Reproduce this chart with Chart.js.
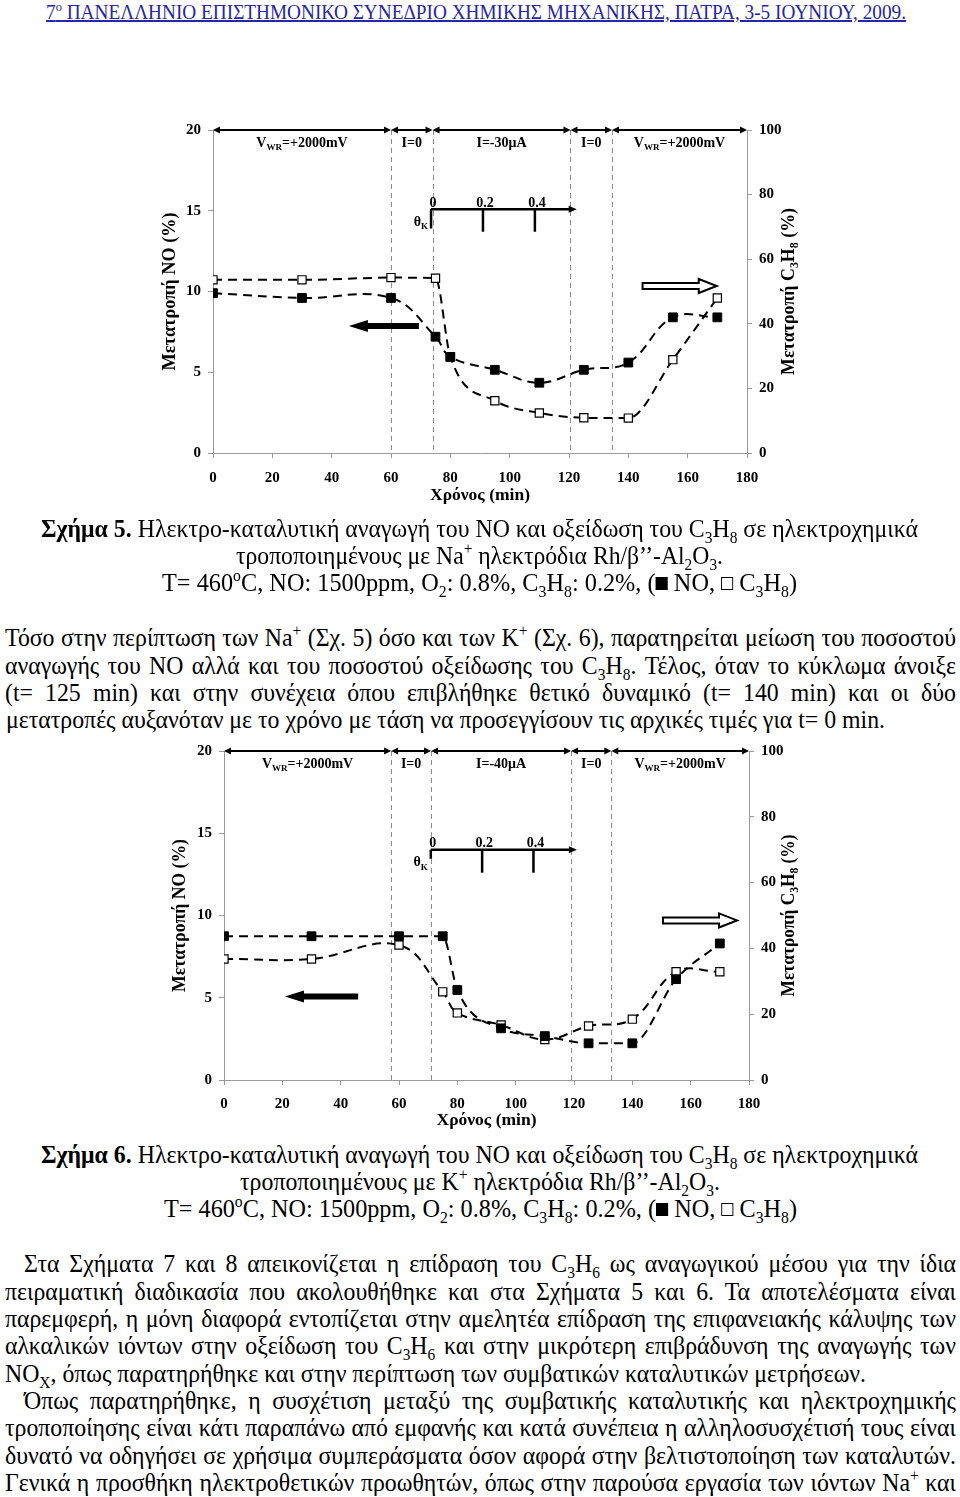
<!DOCTYPE html>
<html>
<head>
<meta charset="utf-8">
<script src="https://cdn.jsdelivr.net/npm/chart.js@4.4.0/dist/chart.umd.min.js"></script>
<style>
  body { margin: 0; width: 960px; height: 1497px; position: relative; overflow: hidden; background: #fff; color: #000;
         font-family: "Liberation Serif", "Times New Roman", serif; }
  .ln { position: absolute; white-space: nowrap; font-size: 26px; line-height: 27px; }
  .ln > span { display: inline-block; transform-origin: 0 0; }
  .hd { font-size: 20px; line-height: 22px; color: #2626a6; }
  .hd > span { text-decoration: underline; }
  sub, sup { font-size: 0.65em; line-height: 0; }
  .sq { display: inline-block; width: 0.5em; height: 0.5em; box-sizing: border-box; vertical-align: 0.05em; }
  .sq.f { background: #000; }
  .sq.o { border: 1.6px solid #000; }
  .box { position: absolute; }
</style>
</head>
<body>

<div class="ln hd" style="left:46px;top:1px" data-w="860"><span>7<sup>ο</sup> ΠΑΝΕΛΛΗΝΙΟ ΕΠΙΣΤΗΜΟΝΙΚΟ ΣΥΝΕΔΡΙΟ ΧΗΜΙΚΗΣ ΜΗΧΑΝΙΚΗΣ, ΠΑΤΡΑ, 3-5 ΙΟΥΝΙΟΥ, 2009.</span></div>

<div class="box" style="left:150px;top:110px;width:660px;height:405px"><canvas id="fig5" width="660" height="405"></canvas></div>

<div class="ln" style="left:41px;top:515px" data-w="877"><span><b>Σχήμα 5.</b> Ηλεκτρο-καταλυτική αναγωγή του NO και οξείδωση του C<sub>3</sub>H<sub>8</sub> σε ηλεκτροχημικά</span></div>
<div class="ln" style="left:236px;top:542px" data-w="487"><span>τροποποιημένους με Na<sup>+</sup> ηλεκτρόδια Rh/β’’-Al<sub>2</sub>O<sub>3</sub>.</span></div>
<div class="ln" style="left:162px;top:569px" data-w="635"><span>T= 460<sup>o</sup>C, NO: 1500ppm, O<sub>2</sub>: 0.8%, C<sub>3</sub>H<sub>8</sub>: 0.2%, (<i class="sq f"></i> NO, <i class="sq o"></i> C<sub>3</sub>H<sub>8</sub>)</span></div>

<div class="ln" style="left:5px;top:624px" data-w="951" data-j="1"><span>Τόσο στην περίπτωση των Na<sup>+</sup> (Σχ. 5) όσο και των K<sup>+</sup> (Σχ. 6), παρατηρείται μείωση του ποσοστού</span></div>
<div class="ln" style="left:5px;top:652px" data-w="951" data-j="1"><span>αναγωγής του NO αλλά και του ποσοστού οξείδωσης του C<sub>3</sub>H<sub>8</sub>. Τέλος, όταν το κύκλωμα άνοιξε</span></div>
<div class="ln" style="left:5px;top:679px" data-w="951" data-j="1"><span>(t= 125 min) και στην συνέχεια όπου επιβλήθηκε θετικό δυναμικό (t= 140 min) και οι δύο</span></div>
<div class="ln" id="ref" style="left:6px;top:706px" data-w="879"><span>μετατροπές αυξανόταν με το χρόνο με τάση να προσεγγίσουν τις αρχικές τιμές για t= 0 min.</span></div>

<div class="box" style="left:150px;top:735px;width:660px;height:400px"><canvas id="fig6" width="660" height="400"></canvas></div>

<div class="ln" style="left:41px;top:1141px" data-w="877"><span><b>Σχήμα 6.</b> Ηλεκτρο-καταλυτική αναγωγή του NO και οξείδωση του C<sub>3</sub>H<sub>8</sub> σε ηλεκτροχημικά</span></div>
<div class="ln" style="left:240px;top:1168px" data-w="480"><span>τροποποιημένους με K<sup>+</sup> ηλεκτρόδια Rh/β’’-Al<sub>2</sub>O<sub>3</sub>.</span></div>
<div class="ln" style="left:164px;top:1195px" data-w="633"><span>T= 460<sup>o</sup>C, NO: 1500ppm, O<sub>2</sub>: 0.8%, C<sub>3</sub>H<sub>8</sub>: 0.2%, (<i class="sq f"></i> NO, <i class="sq o"></i> C<sub>3</sub>H<sub>8</sub>)</span></div>

<div class="ln" style="left:24px;top:1250px" data-w="932" data-j="1"><span>Στα Σχήματα 7 και 8 απεικονίζεται η επίδραση του C<sub>3</sub>H<sub>6</sub> ως αναγωγικού μέσου για την ίδια</span></div>
<div class="ln" style="left:5px;top:1278px" data-w="951" data-j="1"><span>πειραματική διαδικασία που ακολουθήθηκε και στα Σχήματα 5 και 6. Τα αποτελέσματα είναι</span></div>
<div class="ln" style="left:5px;top:1305px" data-w="951" data-j="1"><span>παρεμφερή, η μόνη διαφορά εντοπίζεται στην αμελητέα επίδραση της επιφανειακής κάλυψης των</span></div>
<div class="ln" style="left:5px;top:1332px" data-w="951" data-j="1"><span>αλκαλικών ιόντων στην οξείδωση του C<sub>3</sub>H<sub>6</sub> και στην μικρότερη επιβράδυνση της αναγωγής των</span></div>
<div class="ln" style="left:5px;top:1360px" data-w="861"><span>NO<sub>X</sub>, όπως παρατηρήθηκε και στην περίπτωση των συμβατικών καταλυτικών μετρήσεων.</span></div>
<div class="ln" style="left:24px;top:1387px" data-w="932" data-j="1"><span>Όπως παρατηρήθηκε, η συσχέτιση μεταξύ της συμβατικής καταλυτικής και ηλεκτροχημικής</span></div>
<div class="ln" style="left:5px;top:1414px" data-w="951" data-j="1"><span>τροποποίησης είναι κάτι παραπάνω από εμφανής και κατά συνέπεια η αλληλοσυσχέτισή τους είναι</span></div>
<div class="ln" style="left:5px;top:1442px" data-w="951" data-j="1"><span>δυνατό να οδηγήσει σε χρήσιμα συμπεράσματα όσον αφορά στην βελτιστοποίηση των καταλυτών.</span></div>
<div class="ln" style="left:5px;top:1469px" data-w="951" data-j="1"><span>Γενικά η προσθήκη ηλεκτροθετικών προωθητών, όπως στην παρούσα εργασία των ιόντων Na<sup>+</sup> και</span></div>

<script>
// sampling times (min), shared by both figures
const times = [0, 30, 60, 75, 80, 95, 110, 125, 140, 155, 170];

// Fig. 5 (Na+): NO conversion (%), left axis / C3H8 conversion (%), right axis
const fig5NO   = [9.9, 9.6, 9.6, 7.2, 5.95, 5.15, 4.35, 5.15, 5.6, 8.4, 8.4];
const fig5C3H8 = [53.6, 53.6, 54.3, 54.1, 29.8, 16.2, 12.4, 10.9, 10.8, 28.9, 48.0];

// Fig. 6 (K+)
const fig6NO   = [8.74, 8.74, 8.74, 8.74, 5.47, 3.14, 2.67, 2.23, 2.23, 6.13, 8.3];
const fig6C3H8 = [36.8, 36.8, 41.0, 26.8, 20.4, 16.7, 12.3, 16.4, 18.5, 32.9, 32.9];

// operating phases (min) and their labels
const fig5Phases = [0, 60, 74, 120.5, 134.5, 180];
const fig5PhaseLabels = ['V_{WR}=+2000mV', 'I=0', 'I=-30μA', 'I=0', 'V_{WR}=+2000mV'];
const fig6Phases = [0, 57.3, 71, 119, 132.8, 180];
const fig6PhaseLabels = ['V_{WR}=+2000mV', 'I=0', 'I=-40μA', 'I=0', 'V_{WR}=+2000mV'];

// small θK scale drawn inside the plots
const thetaTicks = [0, 0.2, 0.4];
const thetaLabels = ['0', '0.2', '0.4'];

const FONT = '"Liberation Serif", "Times New Roman", serif';
Chart.defaults.font.family = FONT;
Chart.defaults.color = '#000';

// text with _{subscript} parts
function rich(ctx, str, x, y, size, align, fitW) {
  const parts = str.split(/(_\{[^}]*\})/).filter(Boolean)
    .map(p => p.startsWith('_{') ? [p.slice(2, -1), true] : [p, false]);
  const f = sub => 'bold ' + (sub ? Math.round(size * 0.65) : size) + 'px ' + FONT;
  let w = 0;
  parts.forEach(p => { ctx.font = f(p[1]); w += ctx.measureText(p[0]).width; });
  const k = fitW ? fitW / w : 1;
  ctx.save();
  ctx.translate(x, y);
  ctx.scale(k, 1);
  let cx = align === 'center' ? -w / 2 : (align === 'right' ? -w : 0);
  ctx.textBaseline = 'middle';
  ctx.textAlign = 'left';
  ctx.fillStyle = '#000';
  parts.forEach(p => {
    ctx.font = f(p[1]);
    ctx.fillText(p[0], cx, p[1] ? size * 0.32 : 0);
    cx += ctx.measureText(p[0]).width;
  });
  ctx.restore();
}

function head(ctx, x, y, dir, len, half) {
  ctx.beginPath();
  ctx.moveTo(x, y);
  ctx.lineTo(x - dir * len, y - half);
  ctx.lineTo(x - dir * len, y + half);
  ctx.closePath();
  ctx.fill();
}

function bigArrow(ctx, x1, x2, y, filled) {
  const dir = Math.sign(x2 - x1);
  const hl = filled ? 19 : 18, hh = filled ? 6 : 7, sh = 3;
  const xb = x2 - dir * hl;
  ctx.beginPath();
  ctx.moveTo(x1, y - sh); ctx.lineTo(xb, y - sh); ctx.lineTo(xb, y - hh);
  ctx.lineTo(x2, y); ctx.lineTo(xb, y + hh); ctx.lineTo(xb, y + sh);
  ctx.lineTo(x1, y + sh); ctx.closePath();
  if (filled) {
    ctx.fillStyle = '#000'; ctx.fill();
  } else {
    ctx.fillStyle = '#fff'; ctx.fill();
    ctx.lineWidth = 2; ctx.strokeStyle = '#000'; ctx.stroke();
  }
}

function makeChart(id, cfg) {
  const deco = {
    id: 'deco',
    beforeDatasetsDraw(chart) {
      const { ctx, chartArea: a, scales: { x } } = chart;
      ctx.save();
      ctx.strokeStyle = '#8c8c8c';
      ctx.lineWidth = 1;
      ctx.setLineDash([5, 4]);
      cfg.phases.slice(1, -1).forEach(t => {
        const px = Math.round(x.getPixelForValue(t)) + 0.5;
        ctx.beginPath(); ctx.moveTo(px, a.top); ctx.lineTo(px, a.bottom); ctx.stroke();
      });
      ctx.restore();
    },
    afterDatasetsDraw(chart) {
      const { ctx, chartArea: a, scales: { x, y } } = chart;
      ctx.save();
      ctx.fillStyle = '#000';
      ctx.strokeStyle = '#000';
      // phase arrows along the top
      ctx.lineWidth = 2;
      for (let i = 0; i < cfg.phases.length - 1; i++) {
        const x1 = x.getPixelForValue(cfg.phases[i]);
        const x2 = x.getPixelForValue(cfg.phases[i + 1]);
        ctx.beginPath(); ctx.moveTo(x1 + 4, a.top); ctx.lineTo(x2 - 4, a.top); ctx.stroke();
        head(ctx, x1, a.top, -1, 7, 3.5);
        head(ctx, x2, a.top, 1, 7, 3.5);
        rich(ctx, cfg.phaseLabels[i], (x1 + x2) / 2, a.top + 13, 14, 'center');
      }
      // θK scale
      const th = cfg.theta;
      const y0 = y.getPixelForValue(th.y);
      const xs = thetaTicks.map(v => x.getPixelForValue(th.x0 + v / 0.2 * th.dx));
      const xe = x.getPixelForValue(th.end);
      ctx.lineWidth = 2.5;
      ctx.beginPath(); ctx.moveTo(xs[0], y0); ctx.lineTo(xe - 5, y0); ctx.stroke();
      head(ctx, xe, y0, 1, 8, 3.5);
      ctx.beginPath(); ctx.moveTo(xs[0], y0); ctx.lineTo(xs[0], y.getPixelForValue(th.zeroLow)); ctx.stroke();
      xs.slice(1).forEach(px => {
        ctx.beginPath(); ctx.moveTo(px, y0); ctx.lineTo(px, y.getPixelForValue(th.low)); ctx.stroke();
      });
      thetaLabels.forEach((s, i) => rich(ctx, s, xs[i] + 2, y0 - 6, 14, 'center'));
      rich(ctx, 'θ_{K}', xs[0] - 3, y0 + 13, 14, 'right');
      // direction arrows
      bigArrow(ctx, x.getPixelForValue(cfg.noArrow[0]), x.getPixelForValue(cfg.noArrow[1]),
               y.getPixelForValue(cfg.noArrow[2]), true);
      bigArrow(ctx, x.getPixelForValue(cfg.hcArrow[0]), x.getPixelForValue(cfg.hcArrow[1]),
               y.getPixelForValue(cfg.hcArrow[2]), false);
      ctx.restore();
    },
    afterDraw(chart) {
      const { ctx, chartArea: a } = chart;
      const cy = (a.top + a.bottom) / 2;
      ctx.save();
      ctx.translate(a.left - cfg.titleGap[0], cy);
      ctx.rotate(-Math.PI / 2);
      rich(ctx, 'Μετατροπή NO (%)', 0, 0, 18, 'center', cfg.titleW[0]);
      ctx.restore();
      ctx.save();
      ctx.translate(a.right + cfg.titleGap[1], cy);
      ctx.rotate(-Math.PI / 2);
      rich(ctx, 'Μετατροπή C_{3}H_{8} (%)', 0, 0, 18, 'center', cfg.titleW[1]);
      ctx.restore();
      rich(ctx, 'Χρόνος (min)', (a.left + a.right) / 2, a.bottom + cfg.titleGap[2], 17, 'center', 100);
    }
  };

  const tickFont = { family: FONT, weight: 'bold', size: 15 };
  const axisGrid = { drawOnChartArea: false, tickLength: 5, color: '#9a9a9a' };
  const axisBorder = { color: '#9a9a9a' };

  return new Chart(document.getElementById(id), {
    type: 'line',
    data: {
      datasets: [{
        label: 'NO',
        data: times.map((t, i) => ({ x: t, y: cfg.no[i] })),
        yAxisID: 'y',
        borderColor: '#000',
        borderWidth: 2,
        borderDash: [9, 6],
        tension: 0.4,
        cubicInterpolationMode: cfg.noMode,
        pointStyle: 'rect',
        pointRadius: 6.2,
        pointBackgroundColor: '#000',
        pointBorderColor: '#000',
        pointBorderWidth: 1
      }, {
        label: 'C3H8',
        data: times.map((t, i) => ({ x: t, y: cfg.hc[i] })),
        yAxisID: 'y2',
        borderColor: '#000',
        borderWidth: 2,
        borderDash: [9, 6],
        tension: 0.4,
        cubicInterpolationMode: cfg.hcMode,
        pointStyle: 'rect',
        pointRadius: 5.8,
        pointBackgroundColor: '#fff',
        pointBorderColor: '#000',
        pointBorderWidth: 1.2
      }]
    },
    options: {
      responsive: false,
      animation: false,
      layout: { padding: { top: cfg.box[0], left: 0, right: 0, bottom: 0 } },
      plugins: { legend: { display: false }, tooltip: { enabled: false } },
      scales: {
        x: {
          type: 'linear', min: 0, max: 180,
          ticks: { stepSize: 20, font: tickFont, padding: cfg.xPad, maxRotation: 0 },
          grid: axisGrid, border: axisBorder,
          afterFit: s => { s.height = cfg.box[3]; }
        },
        y: {
          position: 'left', min: 0, max: 20,
          ticks: { stepSize: 5, font: tickFont, padding: 7 },
          grid: axisGrid, border: axisBorder,
          afterFit: s => { s.width = cfg.box[1]; }
        },
        y2: {
          position: 'right', min: 0, max: 100,
          ticks: { stepSize: 20, font: tickFont, padding: 7 },
          grid: axisGrid, border: axisBorder,
          afterFit: s => { s.width = cfg.box[2]; }
        }
      }
    },
    plugins: [deco]
  });
}

makeChart('fig5', {
  no: fig5NO, hc: fig5C3H8,
  noMode: 'default', hcMode: 'monotone',
  phases: fig5Phases, phaseLabels: fig5PhaseLabels,
  theta: { x0: 73.5, dx: 17.5, end: 122.6, y: 15.1, low: 13.7, zeroLow: 13.9 },
  noArrow: [69.4, 45.8, 7.86],
  hcArrow: [144.8, 169.8, 10.34],
  box: [20, 63, 63, 62],      // top padding, left axis, right axis, x axis
  xPad: 11,
  titleGap: [43, 42, 43],
  titleW: [158, 167]
});

makeChart('fig6', {
  no: fig6NO, hc: fig6C3H8,
  noMode: 'monotone', hcMode: 'default',
  phases: fig6Phases, phaseLabels: fig6PhaseLabels,
  theta: { x0: 70.9, dx: 17.6, end: 121, y: 14.0, low: 12.6, zeroLow: 13.45 },
  noArrow: [46, 20.9, 5.08],
  hcArrow: [150.5, 175.9, 9.7],
  box: [15, 74, 61, 55],
  xPad: 10,
  titleGap: [44, 40, 41],
  titleW: [153, 162]
});

// fit the scanned-page text lines to their widths
function fitLines() {
  const ref = document.getElementById('ref');
  const s = (+ref.dataset.w) / ref.firstElementChild.getBoundingClientRect().width;
  document.querySelectorAll('.ln').forEach(el => {
    const t = el.firstElementChild;
    const w = +el.dataset.w;
    const nat = t.getBoundingClientRect().width;
    if (el.dataset.j) {
      const n = (t.textContent.match(/ /g) || []).length;
      t.style.wordSpacing = ((w / s - nat) / n) + 'px';
      t.style.transform = 'scaleX(' + s + ')';
    } else {
      t.style.transform = 'scaleX(' + (w / nat) + ')';
    }
  });
}
fitLines();
</script>
</body>
</html>
